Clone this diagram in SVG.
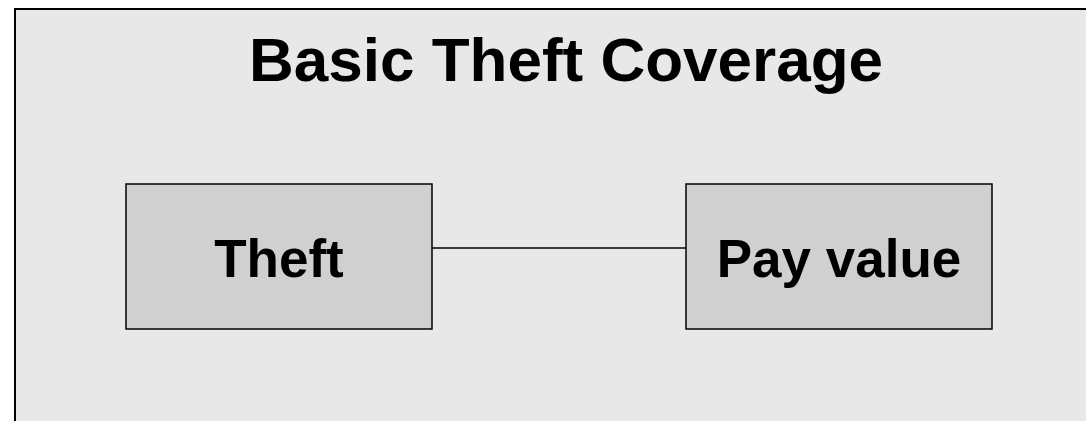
<svg xmlns="http://www.w3.org/2000/svg" width="1086" height="421" viewBox="0 0 1086 421">
  <style>
    .frame { fill: #e8e8e8; stroke: #000; stroke-width: 2; }
    .box { fill: #d0d0d0; stroke: #000; stroke-width: 1.5; }
    .label { font-family: "Liberation Sans", Arial, sans-serif; font-weight: bold; fill: #000; text-anchor: middle; }
    .link { stroke: #000; stroke-width: 1.5; fill: none; }
  </style>
  <rect x="0" y="0" width="1086" height="421" fill="#ffffff"/>
  <!-- panel, open to the right and bottom edges -->
  <rect class="frame" x="15" y="9" width="1080" height="430"/>
  <text class="label" x="566" y="81" font-size="62">Basic Theft Coverage</text>

  <g id="connectors">
    <line class="link" x1="432" y1="248" x2="686" y2="248"/>
  </g>

  <g id="theft">
    <rect class="box" x="126" y="184" width="306" height="145"/>
    <text class="label" x="279" y="277" font-size="53">Theft</text>
  </g>

  <g id="pay-value">
    <rect class="box" x="686" y="184" width="306" height="145"/>
    <text class="label" x="839" y="277" font-size="53">Pay value</text>
  </g>
</svg>
